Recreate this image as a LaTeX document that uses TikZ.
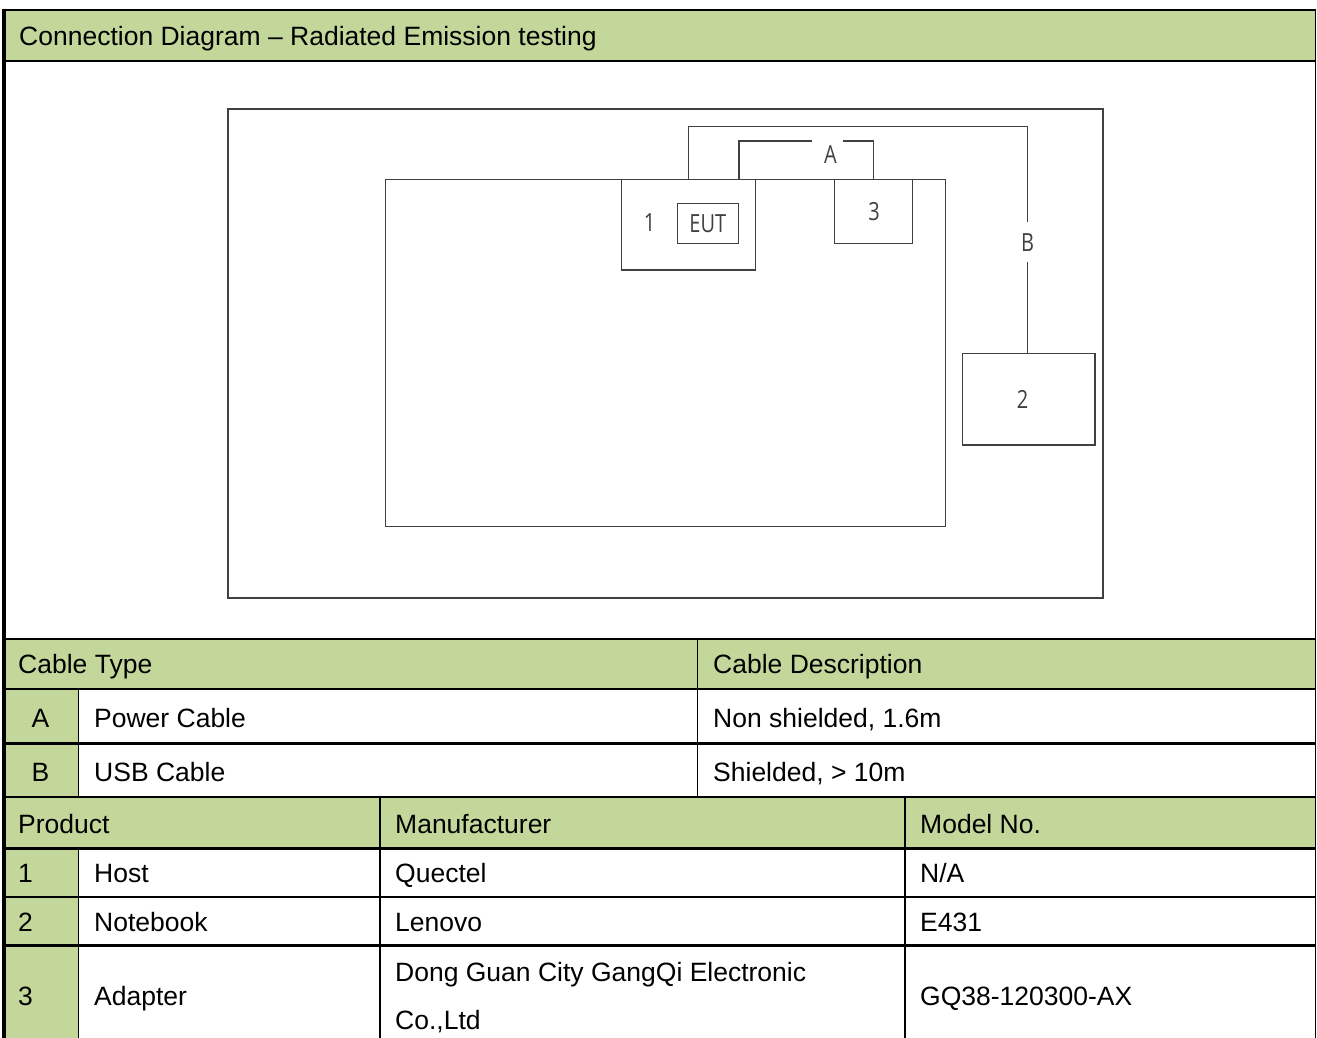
\documentclass[tikz,border=0pt]{standalone}
\usepackage{fontspec}
\setmainfont{Liberation Sans}
\newfontfamily\sketchfont[FakeStretch=0.8]{Open Sans}
\usepackage{tikz}
\usetikzlibrary{positioning}

\definecolor{sheetgreen}{RGB}{196,215,155}
\definecolor{sketchgray}{RGB}{64,64,64}

\begin{document}
\begin{tikzpicture}[x=1pt, y=-1pt,
            % Table text
            cell/.style={anchor=base west, inner sep=0pt,
                    font=\fontsize{26.5}{32}\selectfont},
            keycell/.style={cell, anchor=base},
            % Table rules
            rulehor/.style={line width=2.7pt, black},
            rulevert/.style={line width=1.8pt, black},
            % Sketch boxes
            unit/.style={draw=sketchgray, line width=1.2pt, inner sep=0pt,
                    font=\sketchfont\fontsize{25}{30}\selectfont, text=sketchgray},
            % Cables
            cable/.style={draw=sketchgray, line width=1.2pt},
            cablelabel/.style={inner sep=0pt, text=sketchgray,
                    font=\sketchfont\fontsize{25}{30}\selectfont}
        ]
        \useasboundingbox (0,0) rectangle (1317,1038);
        \fill[white] (0,0) rectangle (1317,1038);

        % Green cells
        \fill[sheetgreen] (4,10) rectangle (1315.5,61);
        \fill[sheetgreen] (4,639) rectangle (1315.5,689);
        \fill[sheetgreen] (4,689) rectangle (78.5,797);
        \fill[sheetgreen] (4,797) rectangle (1315.5,848);
        \fill[sheetgreen] (4,848) rectangle (78.5,1038);

        % Rules
        \foreach \y in {10,61,639,689,743.5,797,848.5,897,945.5}
            \draw[rulehor] (4,\y) -- (1315.5,\y);
        \draw[line width=4.5pt] (4,8.7) -- (4,1038);
        \draw[rulevert] (1315.5,8.7) -- (1315.5,1038);
        \draw[rulevert] (697.5,639) -- (697.5,797);
        \draw[rulevert] (78.5,689) -- (78.5,797);
        \draw[rulevert] (78.5,848) -- (78.5,1038);
        \draw[rulevert] (380,797) -- (380,1038);
        \draw[rulevert] (905,797) -- (905,1038);

        % Title
        \node[cell] (title) at (19,45.5) {Connection Diagram -- Radiated Emission testing};

        % Sketch: room, bench and units
        \node[unit, minimum width=875, minimum height=489] (room) at (665.5,353.5) {};
        \node[unit, minimum width=560, minimum height=347] (bench) at (665.6,352.7) {};
        \node[unit, minimum width=133.6, minimum height=90.7] (host) at (688.5,224.7) {};
        \node[unit, minimum width=61, minimum height=40] (eut) at (707.8,223.5) {EUT};
        \node[cablelabel] (hostnum) at (649.5,223) {1};
        \node[unit, minimum width=78.4, minimum height=64.4] (adapter) at (873.5,211.5) {};
        \node[cablelabel] (adapternum) at (874,212) {3};
        \node[unit, minimum width=132.7, minimum height=91.7] (notebook) at (1028.7,399.2) {};
        \node[cablelabel] (notebooknum) at (1022.7,399) {2};

        % Cable A
        \coordinate (gapAl) at (812,141);
        \coordinate (gapAr) at (843,141);
        \node[cablelabel] (labA) at (830.5,155) {A};
        \draw[cable] (eut.east |- host.north) |- (gapAl);
        \draw[cable] (gapAr) -| (adapter.north);

        % Cable B
        \coordinate (cornerB) at (1027.5,126.7);
        \coordinate (gapBt) at (1027.5,221.7);
        \coordinate (gapBb) at (1027.5,261.7);
        \node[cablelabel] (labB) at (1027.5,243) {B};
        \draw[cable] (host.north) |- (cornerB) -- (gapBt);
        \draw[cable] (gapBb) -- (gapBb |- notebook.north);

        % Cable table
        \node[cell] (hdrtype) at (18,673) {Cable Type};
        \node[cell] (hdrdesc) at (713,673) {Cable Description};
        \node[keycell] (keyA) at (40.5,727) {A};
        \node[cell] (typeA) at (94,727) {Power Cable};
        \node[cell] (descA) at (713,727) {Non shielded, 1.6m};
        \node[keycell] (keyB) at (40.5,781) {B};
        \node[cell] (typeB) at (94,781) {USB Cable};
        \node[cell] (descB) at (713,781) {Shielded, > 10m};

        % Product table
        \node[cell] (hdrprod) at (18,833) {Product};
        \node[cell] (hdrmfr) at (395,833) {Manufacturer};
        \node[cell] (hdrmodel) at (920,833) {Model No.};
        \node[cell] (key1) at (18,882) {1};
        \node[cell] (prod1) at (94,882) {Host};
        \node[cell] (mfr1) at (395,882) {Quectel};
        \node[cell] (model1) at (920,882) {N/A};
        \node[cell] (key2) at (18,931) {2};
        \node[cell] (prod2) at (94,931) {Notebook};
        \node[cell] (mfr2) at (395,931) {Lenovo};
        \node[cell] (model2) at (920,931) {E431};
        \node[cell] (key3) at (18,1005) {3};
        \node[cell] (prod3) at (94,1005) {Adapter};
        \node[cell] (mfr3) at (395,981) {Dong Guan City GangQi Electronic};
        \node[cell] (mfr3b) at (395,1029) {Co.,Ltd};
        \node[cell] (model3) at (920,1005) {GQ38-120300-AX};

    \end{tikzpicture}
\end{document}
